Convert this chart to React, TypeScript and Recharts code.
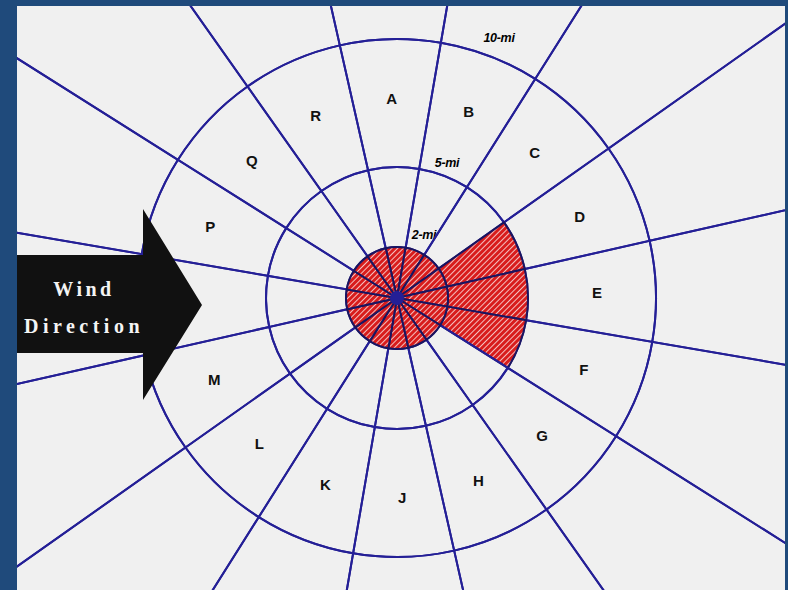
import React from 'react';
import { PieChart, Pie, Cell } from 'recharts';

// 16 emergency planning sectors, clockwise from north (I and O are not used)
const sectors = ['A', 'B', 'C', 'D', 'E', 'F', 'G', 'H', 'J', 'K', 'L', 'M', 'N', 'P', 'Q', 'R'];
const sectorSpan = [1, 1, 1, 1, 1, 1, 1, 1, 1, 1, 1, 1, 1, 1, 1, 1];
// sectors shaded between the 2-mile and 5-mile rings (downwind)
const shaded5mi = ['D', 'E', 'F'];
// sector letter hidden under the wind arrow
const hiddenLabels = ['N'];
const ringLabels = ['2-mi', '5-mi', '10-mi'];
const windLabel = ['Wind', 'Direction'];

const sectorData = sectors.map((name, i) => ({ name, value: sectorSpan[i] }));
const hubData = [{ name: 'site', value: 1 }];

const NAVY = '#241f96';
const RAD = Math.PI / 180;
const CX = 380;
const CY = 292;
const START = 102.75;
const END = START - 360;

const sectorLabel = (props: any) => {
  const { cx, cy, midAngle, name } = props;
  if (hiddenLabels.includes(name)) return null;
  const r = 200;
  const x = cx + r * Math.cos(-midAngle * RAD);
  const y = cy + r * Math.sin(-midAngle * RAD);
  return (
    <text
      x={x}
      y={y}
      textAnchor="middle"
      dominantBaseline="central"
      fontFamily="Liberation Sans, Arial, sans-serif"
      fontWeight="bold"
      fontSize={15}
      fill="#111"
    >
      {name}
    </text>
  );
};

const ringText = {
  textAnchor: 'middle' as const,
  dominantBaseline: 'central' as const,
  fontFamily: 'Liberation Sans, Arial, sans-serif',
  fontWeight: 900,
  fontStyle: 'italic',
  fontSize: 12.5,
  letterSpacing: -0.3,
  fill: '#000',
};

const App = () => {
  return (
    <div style={{ position: 'fixed', left: 0, top: 0, width: 788, height: 590, background: '#1f4a7b' }}>
      <svg width={0} height={0} style={{ position: 'absolute' }}>
        <defs>
          <pattern id="hatch" patternUnits="userSpaceOnUse" width={4} height={4} patternTransform="rotate(45)">
            <rect width={4} height={4} fill="#d81c1c" />
            <rect x={0} width={0.9} height={4} fill="#ffffff" opacity={0.8} />
          </pattern>
        </defs>
      </svg>
      <div style={{ position: 'absolute', left: 17, top: 6, width: 768, height: 584, background: '#f0f0f0', overflow: 'hidden' }}>
        <PieChart width={768} height={584} margin={{ top: 0, right: 0, bottom: 0, left: 0 }}>
          {/* long radials beyond 10 miles */}
          <Pie
            data={sectorData}
            dataKey="value"
            cx={CX}
            cy={CY}
            innerRadius={259}
            outerRadius={720}
            startAngle={START}
            endAngle={END}
            fill="none"
            stroke={NAVY}
            strokeWidth={2}
            isAnimationActive={false}
          />
          {/* 5 to 10 mile ring with sector letters */}
          <Pie
            data={sectorData}
            dataKey="value"
            cx={CX}
            cy={CY}
            innerRadius={131}
            outerRadius={259}
            startAngle={START}
            endAngle={END}
            fill="none"
            stroke={NAVY}
            strokeWidth={2}
            label={sectorLabel}
            labelLine={false}
            isAnimationActive={false}
          />
          {/* 2 to 5 mile ring */}
          <Pie
            data={sectorData}
            dataKey="value"
            cx={CX}
            cy={CY}
            innerRadius={51}
            outerRadius={131}
            startAngle={START}
            endAngle={END}
            stroke={NAVY}
            strokeWidth={2}
            isAnimationActive={false}
          >
            {sectorData.map((d) => (
              <Cell
                key={d.name}
                fill={shaded5mi.includes(d.name) ? 'url(#hatch)' : 'none'}
                stroke={shaded5mi.includes(d.name) ? '#1a1560' : NAVY}
              />
            ))}
          </Pie>
          {/* 2 mile circle, fully shaded */}
          <Pie
            data={sectorData}
            dataKey="value"
            cx={CX}
            cy={CY}
            innerRadius={0}
            outerRadius={51}
            startAngle={START}
            endAngle={END}
            fill="url(#hatch)"
            stroke="#1a1560"
            strokeWidth={2}
            isAnimationActive={false}
          />
          <Pie
            data={hubData}
            dataKey="value"
            cx={CX}
            cy={CY}
            innerRadius={0}
            outerRadius={7}
            fill={NAVY}
            stroke="none"
            isAnimationActive={false}
          />
          <text x={407} y={229} {...ringText}>{ringLabels[0]}</text>
          <text x={430} y={157} {...ringText}>{ringLabels[1]}</text>
          <text x={482} y={32} {...ringText}>{ringLabels[2]}</text>
        </PieChart>
        {/* wind arrow drawn over the sector lines */}
        <svg width={768} height={584} style={{ position: 'absolute', left: 0, top: 0, pointerEvents: 'none' }}>
          <polygon points="0,249 126,249 126,203 185,299 126,394 126,347 0,347" fill="#111111" />
          <text x={67} y={290} textAnchor="middle" fontFamily="Liberation Serif, Times New Roman, serif" fontWeight="bold" fontSize={20} letterSpacing={3.5} fill="#f4f4f4">
            {windLabel[0]}
          </text>
          <text x={67} y={327} textAnchor="middle" fontFamily="Liberation Serif, Times New Roman, serif" fontWeight="bold" fontSize={20} letterSpacing={4.5} fill="#f4f4f4">
            {windLabel[1]}
          </text>
        </svg>
      </div>
    </div>
  );
};

export default App;
